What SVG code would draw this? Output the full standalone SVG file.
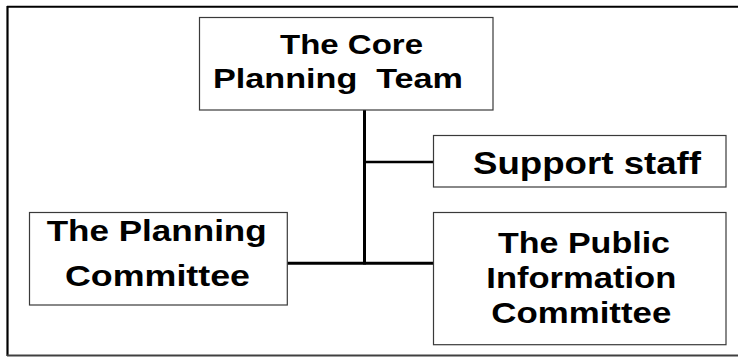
<svg xmlns="http://www.w3.org/2000/svg" width="738" height="358" viewBox="0 0 738 358">
<style>
.box{fill:#fff;stroke:#3a3a3a;stroke-width:1.2}
.t{font-family:"Liberation Sans",Arial,sans-serif;font-weight:bold;fill:#000;text-anchor:middle}
.c{stroke:#000;fill:none}
</style>
<rect width="738" height="358" fill="#fff"/>
<g id="frame">
<line x1="7" y1="6.8" x2="738" y2="6.8" stroke="#000" stroke-width="2"/>
<line x1="7.5" y1="6" x2="7.5" y2="356" stroke="#000" stroke-width="2.2"/>
<line x1="7" y1="355.5" x2="738" y2="355.5" stroke="#404040" stroke-width="2"/>
</g>
<g id="connectors">
<line class="c" x1="364.5" y1="110" x2="364.5" y2="264.5" stroke-width="3"/>
<line class="c" x1="364" y1="162" x2="433.5" y2="162" stroke-width="2.5"/>
<line class="c" x1="287" y1="263.2" x2="433.5" y2="263.2" stroke-width="3"/>
</g>
<g id="core">
<rect class="box" x="199.5" y="17.5" width="293.5" height="92.5"/>
<text class="t" x="351.5" y="54" font-size="28" textLength="143" lengthAdjust="spacingAndGlyphs">The Core</text>
<text class="t" x="338" y="88" font-size="28" textLength="250" lengthAdjust="spacingAndGlyphs" xml:space="preserve">Planning  Team</text>
</g>
<g id="support">
<rect class="box" x="433.5" y="135.5" width="292.5" height="51.5"/>
<text class="t" x="587" y="174.3" font-size="31" textLength="228" lengthAdjust="spacingAndGlyphs">Support staff</text>
</g>
<g id="planning">
<rect class="box" x="29.5" y="212.5" width="257.8" height="92.5"/>
<text class="t" x="156.7" y="241.3" font-size="30" textLength="220" lengthAdjust="spacingAndGlyphs">The Planning</text>
<text class="t" x="157.5" y="286.3" font-size="30" textLength="185" lengthAdjust="spacingAndGlyphs">Committee</text>
</g>
<g id="public">
<rect class="box" x="433.5" y="212.5" width="292.5" height="132.2"/>
<text class="t" x="584" y="253" font-size="30" textLength="172" lengthAdjust="spacingAndGlyphs">The Public</text>
<text class="t" x="581.3" y="288" font-size="30" textLength="190" lengthAdjust="spacingAndGlyphs">Information</text>
<text class="t" x="581.3" y="323" font-size="30" textLength="180" lengthAdjust="spacingAndGlyphs">Committee</text>
</g>
</svg>
